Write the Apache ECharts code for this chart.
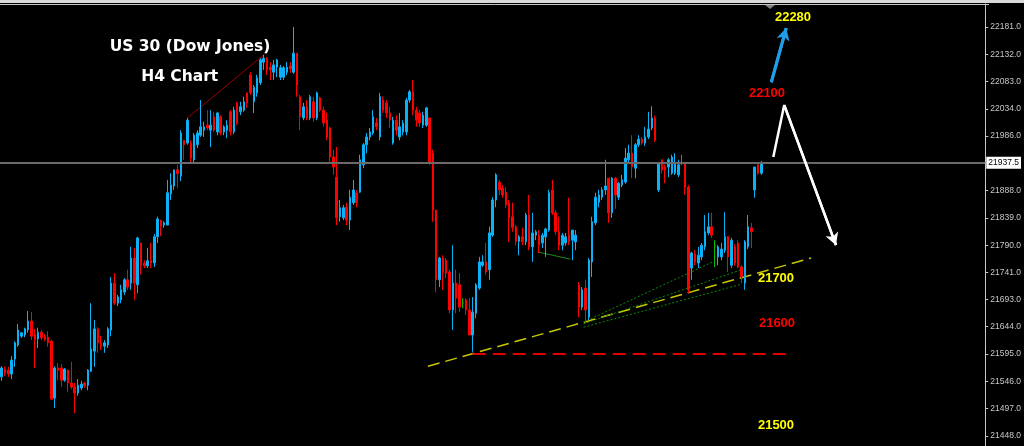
<!DOCTYPE html>
<html><head><meta charset="utf-8">
<script src="https://cdn.jsdelivr.net/npm/echarts@6/dist/echarts.min.js"></script>
<style>html,body{margin:0;padding:0;background:#000}#c{width:1024px;height:446px}</style>
</head><body><div id="c"></div>
<script>
// ---- data (US 30, H4 candles) ----
const open=[21554,21568,21566,21559,21586,21611,21627,21629,21638,21654,
21631,21622,21634,21627,21625,21618,21516,21570,21570,21548,
21566,21543,21536,21525,21534,21543,21539,21564,21600,21640,
21615,21609,21611,21638,21722,21686,21692,21706,21728,21722,
21767,21719,21794,21758,21753,21763,21758,21805,21835,21826,
21826,21882,21896,21925,21914,21978,21973,21973,21943,21970,
21987,21996,22005,21996,22020,21993,22020,21993,21996,22029,
21993,22045,22029,22032,22063,22095,22047,22063,22081,22118,
22125,22109,22100,22109,22091,22091,22100,22111,22100,22134,
22056,22018,22038,22018,22047,22018,22054,22032,22014,22000,
21948,21912,21841,21839,21858,21835,21866,21884,21885,21934,
21970,21984,21991,22009,21984,22050,22045,22027,21973,22014,
21984,21993,21993,22050,22065,22032,22027,22005,22005,22018,
21955,21853,21728,21767,21763,21742,21674,21722,21719,21686,
21692,21674,21629,21668,21713,21754,21760,21746,21808,21871,
21903,21892,21885,21866,21841,21823,21797,21805,21796,21844,
21787,21808,21808,21794,21805,21817,21889,21848,21814,21790,
21794,21808,21799,21796,21719,21679,21713,21661,21760,21830,
21867,21876,21889,21910,21848,21910,21876,21898,21903,21943,
21955,21928,21970,21980,21973,21984,22000,22018,21889,21943,
21930,21930,21919,21919,21916,21937,21937,21894,21749,21774,
21758,21769,21787,21812,21823,21790,21769,21769,21781,21805,
21754,21787,21794,21751,21722,21787,21821,21889,21934,21919];
const close=[21570,21561,21559,21584,21615,21638,21633,21640,21654,21627,
21620,21634,21624,21622,21615,21514,21570,21566,21548,21568,
21543,21536,21525,21539,21541,21538,21566,21604,21640,21615,
21609,21615,21640,21722,21686,21697,21710,21728,21715,21767,
21722,21803,21754,21753,21762,21758,21805,21837,21824,21830,
21884,21898,21925,21918,21991,21970,22014,21946,21987,21991,
22002,22002,22000,22005,21996,22027,21991,22002,22005,21993,
22032,22009,22038,22047,22045,22063,22073,22090,22122,22125,
22104,22104,22113,22122,22108,22108,22109,22106,22134,22077,
22020,22038,22018,22056,22018,22063,22032,22009,21984,21948,
21930,21839,21857,21857,21835,21876,21889,21866,21943,21970,
21984,21993,22020,22002,22056,22032,22027,22014,22014,21996,
22002,22009,22050,22065,22032,22014,22009,22023,22036,21937,
21853,21728,21767,21742,21740,21674,21722,21695,21679,21686,
21674,21629,21670,21719,21760,21760,21742,21812,21871,21916,
21889,21880,21862,21839,21821,21796,21805,21796,21844,21787,
21812,21814,21790,21808,21819,21884,21848,21814,21790,21808,
21805,21796,21817,21808,21679,21710,21674,21763,21832,21876,
21880,21889,21896,21848,21910,21880,21901,21907,21946,21955,
21930,21970,21980,21973,21984,21998,22018,21978,21937,21925,
21925,21943,21948,21937,21934,21937,21894,21710,21776,21760,
21772,21790,21814,21823,21808,21790,21787,21783,21805,21769,
21799,21758,21751,21733,21796,21823,21814,21930,21919,21937.5];
const low=[21547,21556,21554,21550,21572,21608,21624,21625,21633,21620,
21570,21606,21620,21618,21608,21513,21498,21548,21536,21545,
21527,21532,21489,21520,21530,21534,21530,21563,21572,21597,
21602,21597,21606,21627,21683,21681,21686,21701,21710,21710,
21692,21704,21737,21749,21749,21749,21751,21794,21806,21821,
21826,21871,21889,21892,21905,21943,21970,21939,21939,21964,
21984,21984,21996,21966,21993,21987,21987,21987,21982,21987,
21989,22005,22023,22029,22036,22059,22027,22056,22077,22104,
22095,22086,22086,22091,22086,22086,22095,22099,22097,22056,
21996,22014,22014,22014,22011,22014,22029,22002,21978,21939,
21916,21826,21832,21835,21826,21817,21862,21858,21884,21928,
21955,21978,21987,21996,21978,22027,22018,22000,21970,21987,
21978,21987,21987,22045,22023,22002,22002,22000,22002,21934,
21832,21706,21715,21710,21731,21668,21638,21668,21670,21677,
21665,21629,21599,21659,21710,21751,21737,21728,21805,21858,
21880,21875,21857,21796,21814,21790,21772,21790,21790,21781,
21760,21799,21776,21785,21769,21814,21844,21808,21781,21781,
21789,21790,21763,21781,21661,21674,21651,21656,21733,21826,
21858,21871,21880,21830,21839,21855,21871,21894,21900,21939,
21910,21910,21966,21970,21968,21980,21996,21975,21885,21919,
21901,21912,21916,21916,21912,21934,21880,21704,21728,21754,
21749,21763,21781,21808,21803,21751,21754,21763,21776,21742,
21749,21753,21749,21722,21710,21783,21785,21875,21916,21916];
const high=[21573,21573,21572,21591,21618,21649,21634,21642,21672,21670,
21640,21642,21638,21631,21636,21620,21573,21579,21577,21570,
21566,21581,21543,21550,21547,21545,21568,21686,21656,21643,
21627,21620,21643,21733,21740,21701,21719,21731,21746,21787,
21785,21805,21794,21763,21785,21794,21810,21841,21835,21833,
21907,21919,21925,21934,21996,21978,22018,21978,21991,21996,
22050,22011,22032,22032,22029,22029,22023,22005,22014,22032,
22038,22047,22047,22056,22063,22100,22077,22095,22125,22131,
22127,22118,22122,22124,22113,22111,22118,22118,22181,22134,
22059,22045,22050,22059,22056,22065,22056,22038,22027,22002,
21961,21966,21871,21862,21866,21889,21907,21889,21952,21973,
21991,22000,22032,22018,22063,22056,22050,22038,22020,22023,
22027,22014,22054,22068,22086,22038,22032,22029,22038,22018,
21961,21853,21769,21772,21767,21746,21790,21746,21740,21695,
21695,21695,21697,21722,21769,21772,21794,21823,21876,21919,
21907,21898,21894,21871,21866,21826,21808,21821,21848,21880,
21848,21817,21817,21812,21821,21889,21907,21853,21841,21812,
21812,21875,21817,21817,21724,21715,21728,21767,21841,21884,
21889,21894,21943,21910,21912,21912,21903,21916,21964,21970,
21987,21973,21987,21984,22002,22029,22039,22022,21939,21943,
21934,21946,21952,21955,21943,21952,21939,21898,21778,21781,
21787,21794,21844,21848,21848,21799,21790,21794,21849,21806,
21803,21792,21799,21754,21799,21844,21830,21930,21937,21941];
const yTicks=[22181,22132,22083,22034,21986,21888,21839,21790,21741,21693,21644,21595,21546,21497,21448];
const lastPrice=21937.5;
const slots=297;
// annotation lines, in [bar index, price]
const trendRed=[[56,22018],[79,22131]];
const trendYellow=[[128.5,21573],[244,21767]];
const supportRed=[[142,21595],[236.5,21595]];
const greenSolid=[[161.5,21778],[171.4,21765]];
const greenFanA=[[175.4,21652],[214.3,21760]];
const greenFanB=[[175.4,21649],[223,21746]];
const greenFanC=[[175.4,21643],[223,21720]];
const blueArrow=[[232,22082],[236.5,22179]];
const whitePath=[[232.6,21948],[235.9,22041],[251.5,21790]];
const notes=[
  {t:'US 30 (Dow Jones)',x:190,y:46.5,c:'#ffffff',s:15.5,f:'"DejaVu Sans"'},
  {t:'H4 Chart',x:179.7,y:77.2,c:'#ffffff',s:15.5,f:'"DejaVu Sans"'},
  {t:'22280',x:793,y:17,c:'#ffff00',s:13,f:'"Liberation Sans"'},
  {t:'22100',x:767,y:93,c:'#ff0000',s:13,f:'"Liberation Sans"'},
  {t:'21700',x:776,y:278,c:'#ffff00',s:13,f:'"Liberation Sans"'},
  {t:'21600',x:777,y:323,c:'#ff0000',s:13,f:'"Liberation Sans"'},
  {t:'21500',x:776,y:425,c:'#ffff00',s:13,f:'"Liberation Sans"'}
];
// ---- chart ----
const UP='#0cb0f5', DOWN='#ff0000', DOJI='#00c000';
const cats=Array.from({length:slots},(_,i)=>String(i));
const candles=open.map((o,i)=>{
  const d=[o,close[i],low[i],high[i]];
  if(o===close[i]) return {value:d,itemStyle:{color:DOJI,color0:DOJI,borderColor:DOJI,borderColor0:DOJI}};
  return d;
});
function seg(data,color,width,type){
  return {type:'line',xAxisIndex:1,yAxisIndex:0,data:data,symbol:'none',silent:true,animation:false,
    lineStyle:{color:color,width:width,type:type||'solid'},z:3};
}
function arrowSeries(data,color,width){
  const s=seg(data,color,width);
  const a=data[data.length-2], b=data[data.length-1];
  s.markLine={silent:true,animation:false,symbol:['none','arrow'],symbolSize:[10,12],
    lineStyle:{color:color,width:width,type:'solid'},label:{show:false},
    data:[[{coord:a},{coord:b}]]};
  s.z=5;
  return s;
}
const chart=echarts.init(document.getElementById('c'),null,{renderer:'canvas'});
chart.setOption({
  backgroundColor:'#000',
  animation:false,
  grid:{left:0,right:35,top:4,bottom:0,containLabel:false},
  xAxis:[
    {type:'category',data:cats,boundaryGap:true,show:false},
    {type:'value',min:-0.5,max:slots-0.5,show:false}
  ],
  yAxis:{type:'value',position:'right',min:21430.1,max:22222.2,scale:true,
    axisLine:{show:true,onZero:false,lineStyle:{color:'#c8c8c8',width:1}},
    axisTick:{show:true,length:3,customValues:yTicks,lineStyle:{color:'#c8c8c8'}},
    axisLabel:{customValues:yTicks,formatter:v=>Number(v).toFixed(1),color:'#c8c8c8',
      fontSize:8.5,fontFamily:'Liberation Sans',margin:5},
    splitLine:{show:false}},
  series:[
    {type:'candlestick',xAxisIndex:0,yAxisIndex:0,data:candles,barWidth:2,z:4,
      itemStyle:{color:UP,color0:DOWN,borderColor:UP,borderColor0:DOWN,borderWidth:1},
      markLine:{silent:true,symbol:'none',animation:false,
        lineStyle:{color:'#6a6a6a',width:2,type:'solid'},
        label:{show:true,position:'end',formatter:lastPrice.toFixed(1),color:'#000',
          backgroundColor:'#ffffff',fontSize:8.5,fontFamily:'Liberation Sans',padding:[2,2,1,2],distance:1},
        data:[{yAxis:lastPrice}]}},
    seg(trendRed,'#9a0000',1),
    seg(trendYellow,'#c8c800',1.5,[12,6]),
    seg(supportRed,'#e00000',2,[13,7]),
    seg(greenSolid,'#1a8a1a',1),
    seg(greenFanA,'#0a8a0a',1,[2,2]),
    seg(greenFanB,'#0a8a0a',1,[2,2]),
    seg(greenFanC,'#0a8a0a',1,[2,2]),
    arrowSeries(blueArrow,'#1e9ee6',3),
    arrowSeries(whitePath,'#ffffff',2.5)
  ],
  graphic:[
    {type:'rect',shape:{x:0,y:0,width:1024,height:3},style:{fill:'#d9d9d9'},silent:true},
    {type:'line',shape:{x1:0,y1:4.5,x2:989,y2:4.5},style:{stroke:'#c8c8c8',lineWidth:1},silent:true},
    {type:'polygon',shape:{points:[[765,5],[775,5],[770,9]]},style:{fill:'#808080'},silent:true}
  ].concat(notes.map(n=>({type:'text',silent:true,z:10,
    style:{text:n.t,x:n.x,y:n.y,fill:n.c,align:'center',verticalAlign:'middle',
      font:'bold '+n.s+'px '+n.f+', Arial, sans-serif'}})))
});
</script>
</body></html>
